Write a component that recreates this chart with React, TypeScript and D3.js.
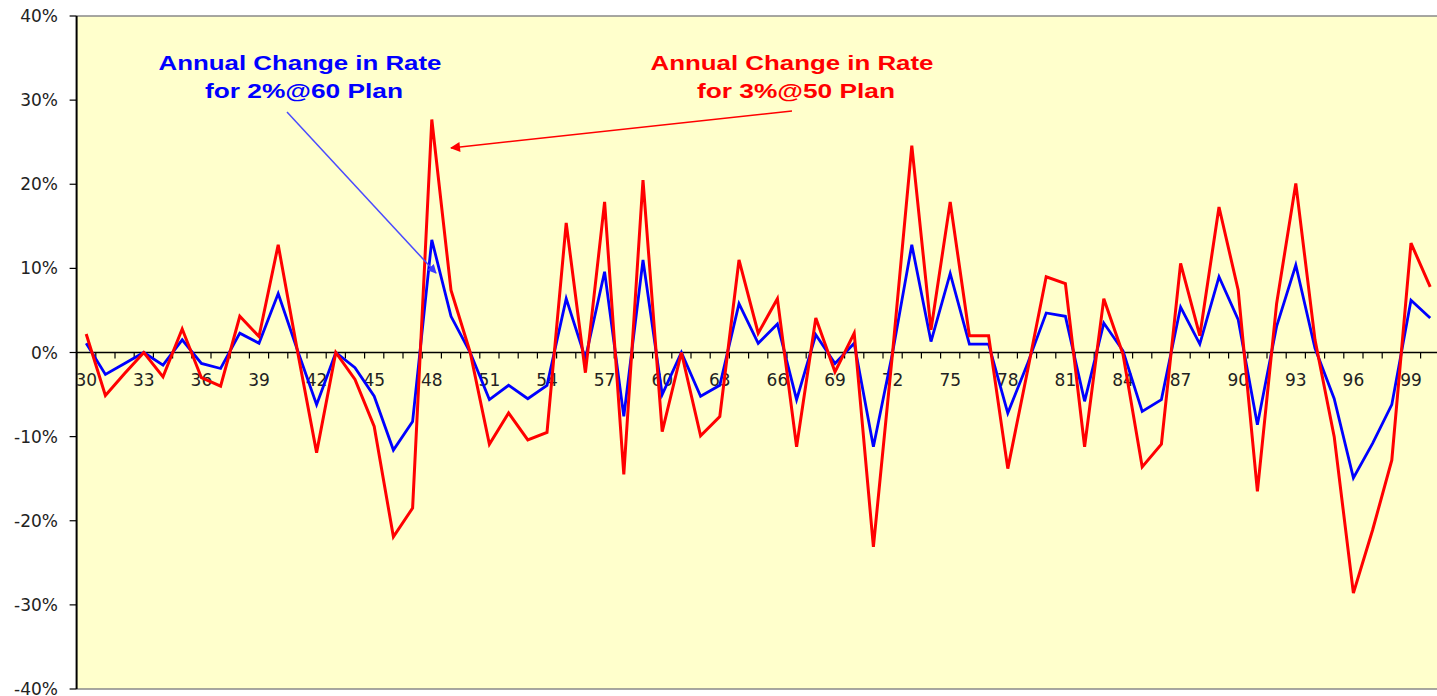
import React from "react";
import * as d3 from "d3";

const years: string[] = [
  "30","31","32","33","34","35","36","37","38","39",
  "40","41","42","43","44","45","46","47","48","49",
  "50","51","52","53","54","55","56","57","58","59",
  "60","61","62","63","64","65","66","67","68","69",
  "70","71","72","73","74","75","76","77","78","79",
  "80","81","82","83","84","85","86","87","88","89",
  "90","91","92","93","94","95","96","97","98","99","00",
];

// Annual change for 2%@60 plan (percent)
const plan2at60: number[] = [
  1.1, -2.6, -1.3, 0, -1.5, 1.5, -1.3, -1.9, 2.3, 1.1,
  7.0, 0.3, -6.2, 0, -1.8, -5.2, -11.6, -8.2, 13.4, 4.3,
  0, -5.6, -3.9, -5.5, -3.9, 6.4, -0.7, 9.6, -7.6, 11.0,
  -5.0, 0, -5.2, -3.9, 5.8, 1.1, 3.4, -5.6, 2.1, -1.3,
  1.1, -11.2, 0, 12.8, 1.3, 9.4, 1.0, 1.0, -7.2, -1.5,
  4.7, 4.3, -5.8, 3.5, 0.2, -7.0, -5.6, 5.4, 1.0, 9.0,
  3.9, -8.6, 3.1, 10.4, 0.5, -5.5, -14.9, -10.8, -6.2, 6.2, 4.1,
];

// Annual change for 3%@50 plan (percent)
const plan3at50: number[] = [
  2.2, -5.1, -2.5, 0, -2.9, 2.8, -3.0, -4.0, 4.3, 1.9,
  12.8, 0.2, -11.9, 0, -3.2, -8.8, -21.9, -18.5, 27.7, 7.4,
  0, -10.9, -7.2, -10.4, -9.5, 15.4, -2.4, 17.9, -14.5, 20.5,
  -9.4, 0, -9.9, -7.6, 11.0, 2.3, 6.4, -11.2, 4.1, -2.3,
  2.3, -23.1, 0, 24.6, 2.7, 17.9, 2.0, 2.0, -13.8, -2.5,
  9.0, 8.2, -11.2, 6.4, -0.2, -13.6, -10.9, 10.6, 2.0, 17.3,
  7.4, -16.5, 5.8, 20.1, 1.5, -10.0, -28.6, -21.1, -12.8, 13.0, 7.8,
];

const yTicks: number[] = [-0.4, -0.3, -0.2, -0.1, 0, 0.1, 0.2, 0.3, 0.4];
const xLabelEvery = 3;

const W = 1437;
const H = 696;
const plotLeft = 76.6;
const plotTop = 16;
const plotBottom = 689;
const step = 19.2;

export default function App() {
  const x = d3
    .scaleBand<string>()
    .domain(years)
    .range([plotLeft, plotLeft + step * years.length])
    .padding(0);
  const y = d3.scaleLinear().domain([-0.4, 0.4]).range([plotBottom, plotTop]);
  const cx = (c: string) => (x(c) as number) + x.bandwidth() / 2;

  const line = d3
    .line<number>()
    .x((_, i) => cx(years[i]))
    .y((d) => y(d / 100));

  const y0 = y(0);
  const plotRight = plotLeft + step * years.length;
  const pct = (t: number) => d3.format(".0%")(t).replace("\u2212", "-");

  return (
    <svg
      width={W}
      height={H}
      style={{ position: "absolute", left: 0, top: 0, display: "block", background: "#fff" }}
    >
      <defs>
        <marker id="arrB" viewBox="0 0 10 10" refX="9" refY="5" markerWidth="9" markerHeight="9" orient="auto" markerUnits="userSpaceOnUse">
          <path d="M0,0 L10,5 L0,10 Z" fill="#3b3bff" />
        </marker>
        <marker id="arrR" viewBox="0 0 10 10" refX="9" refY="5" markerWidth="14" markerHeight="10" orient="auto" markerUnits="userSpaceOnUse">
          <path d="M0,0 L10,5 L0,10 Z" fill="#ff0000" />
        </marker>
      </defs>
      <rect x={plotLeft} y={plotTop} width={plotRight - plotLeft} height={plotBottom - plotTop} fill="#FFFFCC" />
      <line x1={plotLeft} x2={plotRight} y1={plotTop} y2={plotTop} stroke="#888" strokeWidth={1.5} />
      <line x1={plotLeft} x2={plotRight} y1={plotBottom} y2={plotBottom} stroke="#888" strokeWidth={1.5} />
      <line x1={plotLeft} x2={plotLeft} y1={plotTop} y2={plotBottom} stroke="#000" strokeWidth={2} />
      {yTicks.map((t) => (
        <g key={t}>
          <line x1={plotLeft - 7} x2={plotLeft} y1={y(t)} y2={y(t)} stroke="#000" strokeWidth={1.2} />
          <text
            x={58}
            y={y(t)}
            dy="0.36em"
            textAnchor="end"
            fontFamily="DejaVu Sans, Verdana, sans-serif"
            fontSize={17}
            fill="#222"
          >
            {pct(t)}
          </text>
        </g>
      ))}
      <line x1={plotLeft} x2={plotRight} y1={y0} y2={y0} stroke="#000" strokeWidth={1.5} />
      {years.map((c) => (
        <line key={"t" + c} x1={x(c) as number} x2={x(c) as number} y1={y0} y2={y0 + 6} stroke="#000" strokeWidth={1.2} />
      ))}
      {years.map((c, i) =>
        i % xLabelEvery === 0 ? (
          <text
            key={"l" + c}
            x={cx(c)}
            y={y0 + 33}
            textAnchor="middle"
            fontFamily="DejaVu Sans, Verdana, sans-serif"
            fontSize={17}
            fill="#222"
          >
            {c}
          </text>
        ) : null
      )}
      <path d={line(plan2at60) || ""} fill="none" stroke="#0000FF" strokeWidth={2.8} strokeLinejoin="miter" />
      <path d={line(plan3at50) || ""} fill="none" stroke="#FF0000" strokeWidth={3} strokeLinejoin="miter" />
      <g fontFamily="Liberation Sans, Arial, sans-serif" fontWeight="bold" fontSize={21} textAnchor="middle">
        <text x={300} y={70} fill="#0000FF" textLength={283} lengthAdjust="spacingAndGlyphs">Annual Change in Rate</text>
        <text x={304} y={98} fill="#0000FF" textLength={198} lengthAdjust="spacingAndGlyphs">for 2%@60 Plan</text>
        <text x={792} y={70} fill="#FF0000" textLength={283} lengthAdjust="spacingAndGlyphs">Annual Change in Rate</text>
        <text x={796} y={98} fill="#FF0000" textLength={198} lengthAdjust="spacingAndGlyphs">for 3%@50 Plan</text>
      </g>
      <line x1={287} y1={112} x2={436} y2={273} stroke="#4a4aff" strokeWidth={1.5} markerEnd="url(#arrB)" />
      <line x1={792} y1={111} x2={451} y2={148} stroke="#ff0000" strokeWidth={1.5} markerEnd="url(#arrR)" />
    </svg>
  );
}
